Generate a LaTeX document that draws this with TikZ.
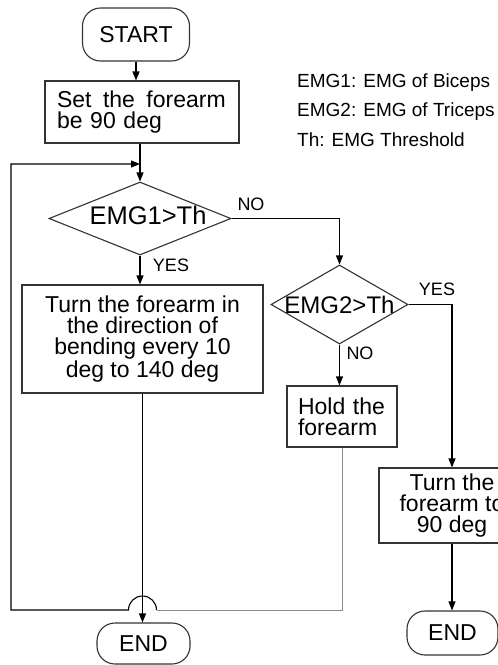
\documentclass[tikz,border=0pt]{standalone}
\usepackage{fontspec}
\setmainfont{Liberation Sans}
\usetikzlibrary{arrows.meta,shapes.geometric}
\def\bigfont{\fontsize{23}{21}\selectfont}
\def\decfont{\fontsize{24}{24}\selectfont}
\def\labfont{\fontsize{18}{20}\selectfont}
\def\keyfont{\fontsize{19}{22}\selectfont}
\tikzset{
  box/.style={draw=black!80, line width=1.1pt, rectangle, inner sep=0pt, font=\bigfont},
  term/.style={box, rounded corners=18pt},
  dec/.style={draw=black!80, line width=1.1pt, diamond, aspect=1.7, inner sep=0pt, font=\decfont},
  lab/.style={font=\labfont, inner sep=1pt},
  key/.style={font=\keyfont, inner sep=0pt, anchor=west},
  arr/.style={line width=1.1pt, -{Triangle[length=9pt,width=7pt]}},
  wire/.style={line width=1pt}
}

\begin{document}
\begin{tikzpicture}[x=1pt, y=-1pt]
		%%%%% START %%%%%
		\useasboundingbox (0,0) rectangle (498,665);
		\clip (0,0) rectangle (498,665);
		\fill[white] (0,0) rectangle (498,665);
		
		\node[term, minimum width=107pt, minimum height=53pt] (start) at (136,34.5) {START};
		\node[box, minimum width=194pt, minimum height=62pt, text width=170pt, align=left] (set) at (142,112) {Set\hspace{0.5em}the\hspace{0.5em}forearm\\be 90 deg};
		\node[dec, minimum width=182pt, minimum height=73pt] (dec1) at (140,218.5) {\makebox[60pt]{\fontsize{25.5}{26}\selectfont\hspace{16pt}\raisebox{6pt}{EMG1>Th}}};
		\node[box, minimum width=241pt, minimum height=108pt, align=center] (turn) at (142.5,339) {Turn the forearm in\\the direction of\\bending every 10\\deg to 140 deg};
		\node[dec, minimum width=137pt, minimum height=79pt] (dec2) at (339.5,304.5) {\makebox[60pt]{EMG2>Th}};
		\node[box, minimum width=110pt, minimum height=61pt, text width=88pt, align=left] (hold) at (342,416.5) {Hold the\\forearm};
		\node[box, minimum width=146pt, minimum height=75pt, align=center] (back) at (452,505.5) {Turn the\\forearm to\\90 deg};
		\node[term, minimum width=93pt, minimum height=41pt] (end1) at (143.5,643.5) {END};
		\node[term, minimum width=91pt, minimum height=44pt] (end2) at (452.5,633) {END};
		
		% legend
		\node[key] (key1) at (297,83) {EMG1: EMG of Biceps};
		\node[key] (key2) at (297,112) {EMG2: EMG of Triceps};
		\node[key] (key3) at (297,140) {Th: EMG Threshold};
		
		\node[lab] (no1) at (251,204) {NO};
		\node[lab] (yes1) at (171,265) {YES};
		\node[lab] (yes2) at (437,289) {YES};
		\node[lab] (no2) at (360,353) {NO};
		
		\draw[arr] (start.south) -- (start.south |- set.north);
		\draw[arr] (set.south -| dec1.north) -- (dec1.north);
		\draw[arr] (dec1.south) -- (dec1.south |- turn.north);
		\draw[arr] (dec1.east) -| (dec2.north);
		\draw[arr] (dec2.south) -- (dec2.south |- hold.north);
		\draw[arr] (dec2.east) -| (back.north);
		\draw[arr] (back.south) -- (back.south |- end2.north);
		\draw[arr] (turn.south) -- (turn.south |- end1.north);
		
		% loop back with jump
		\coordinate (jump) at (142.5,610);
		\coordinate (loopleft) at (11,610);
		\coordinate (loopin) at (140,164);
		\draw[wire, black!45] (hold.south) |- ([xshift=14pt]jump);
		\draw[arr] ([xshift=14pt]jump) arc[start angle=0, end angle=180, radius=14pt] -- (loopleft) |- (loopin);
		
		%%%%% END %%%%%
\end{tikzpicture}
\end{document}
